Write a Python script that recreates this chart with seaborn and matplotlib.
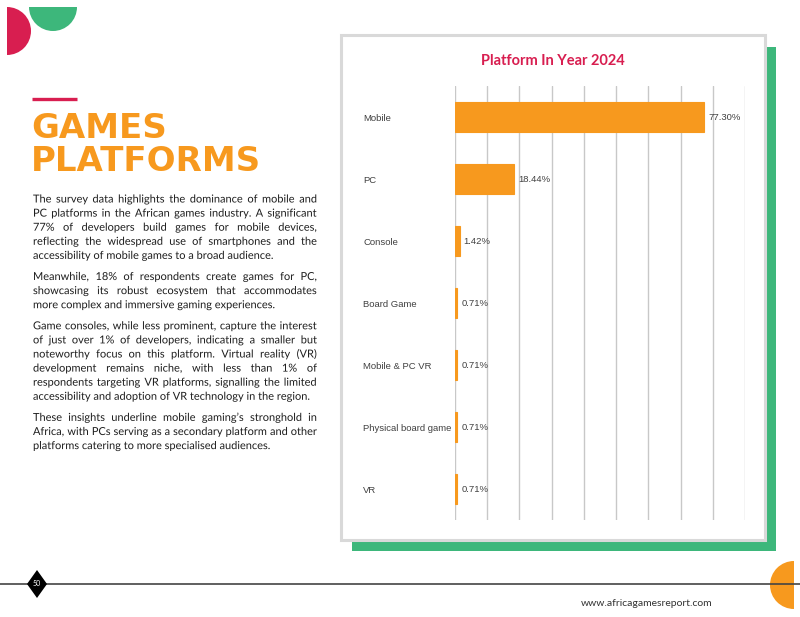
import matplotlib
matplotlib.use("Agg")
import matplotlib.pyplot as plt
import matplotlib.patheffects as pe
from matplotlib.patches import Wedge, Rectangle, Polygon
import seaborn as sns

# ── Data ─────────────────────────────────────────────────────────────────────
platforms = ["Mobile", "PC", "Console", "Board Game", "Mobile & PC VR",
             "Physical board game", "VR"]
shares = [77.30, 18.44, 1.42, 0.71, 0.71, 0.71, 0.71]
value_labels = [f"{v:.2f}%" for v in shares]

chart_title = "Platform In Year 2024"
heading = ["GAMES", "PLATFORMS"]
paragraphs = [
    ["The survey data highlights the dominance of mobile and",
     "PC platforms in the African games industry. A significant",
     "77% of developers build games for mobile devices,",
     "reflecting the widespread use of smartphones and the",
     "accessibility of mobile games to a broad audience."],
    ["Meanwhile, 18% of respondents create games for PC,",
     "showcasing its robust ecosystem that accommodates",
     "more complex and immersive gaming experiences."],
    ["Game consoles, while less prominent, capture the interest",
     "of just over 1% of developers, indicating a smaller but",
     "noteworthy focus on this platform. Virtual reality (VR)",
     "development remains niche, with less than 1% of",
     "respondents targeting VR platforms, signalling the limited",
     "accessibility and adoption of VR technology in the region."],
    ["These insights underline mobile gaming\u2019s stronghold in",
     "Africa, with PCs serving as a secondary platform and other",
     "platforms catering to more specialised audiences."],
]
page_number = "50"
website = "www.africagamesreport.com"

ORANGE = "#F7991E"
CRIMSON = "#D81E50"
GREEN = "#3DB77B"

sns.set_style("white")
plt.rcParams["font.family"] = ["Liberation Sans", "DejaVu Sans"]

W, H = 800, 617
fig = plt.figure(figsize=(W / 100, H / 100), dpi=100)

# ── Page background (pixel coordinates) ──────────────────────────────────────
bg = fig.add_axes([0, 0, 1, 1], zorder=0)
bg.set_xlim(0, W)
bg.set_ylim(H, 0)
bg.axis("off")

bg.add_patch(Wedge((7, 31), 24, -90, 90, color=CRIMSON, lw=0))
bg.add_patch(Wedge((53, 7), 24, 0, 180, color=GREEN, lw=0))
bg.add_patch(Wedge((794, 585), 24, 90, 270, color=ORANGE, lw=0))

# chart card with green shadow
bg.add_patch(Rectangle((352, 47), 424, 504, color=GREEN, lw=0))
bg.add_patch(Rectangle((341, 35), 424, 505, facecolor="white",
                       edgecolor="#D9D9D9", lw=2.2))

# footer
bg.plot([0, W], [584, 584], color="#444444", lw=1.2)
bg.add_patch(Polygon([(37, 570), (47, 584), (37, 598), (27, 584)],
                     closed=True, color="black", lw=0, zorder=3))
bg.text(37, 584, page_number, color="white", fontsize=5, ha="center",
        va="center", family="Lato", zorder=4)
bg.text(581, 603, website, color="#333333", fontsize=7.5, ha="left",
        va="center", family="Lato")

# heading
bg.plot([32, 77], [99, 99], color=CRIMSON, lw=2.4, solid_capstyle="butt")
bg.text(31, 138, heading[0], color=ORANGE, fontsize=24.5, fontweight="bold",
        family="DejaVu Sans", ha="left", va="baseline")
bg.text(31, 171, heading[1], color=ORANGE, fontsize=24.5, fontweight="bold",
        family="DejaVu Sans", ha="left", va="baseline")

# ── Justified body text ──────────────────────────────────────────────────────
renderer = fig.canvas.get_renderer()


def text_width(s, size):
    t = bg.text(0, 0, s, fontsize=size, family="Lato")
    w = t.get_window_extent(renderer).width
    t.remove()
    return w


ref_line = paragraphs[2][0]
body_size = 10 * 279 / text_width(ref_line, 10)
left, right = 33, 317
line_step, para_gap = 14.1, 7.0
body_kw = dict(fontsize=body_size, family="Lato", color="#1E1E1E",
               va="baseline", ha="left", path_effects=[pe.Normal()])

y = 202.5  # baseline of first line
for para in paragraphs:
    for i, line in enumerate(para):
        words = line.split(" ")
        if i == len(para) - 1:
            bg.text(left, y, line, **body_kw)
        else:
            widths = [text_width(w, body_size) for w in words]
            gap = (right - left - sum(widths)) / (len(words) - 1)
            x = left
            for w, wd in zip(words, widths):
                bg.text(x, y, w, **body_kw)
                x += wd + gap
        y += line_step
    y += para_gap

# ── Bar chart ────────────────────────────────────────────────────────────────
ax = fig.add_axes([455 / W, (H - 520) / H, 290 / W, 434 / H], zorder=2)
ax.patch.set_alpha(0)
sns.barplot(x=shares, y=platforms, orient="h", color=ORANGE, saturation=1,
            width=0.48, edgecolor=ORANGE, linewidth=0.8, ax=ax, zorder=3)
ax.set_xlim(0, 90)
ax.set_ylim(6.5, -0.5)
ax.set_xticks(range(0, 91, 10))
ax.set_xticklabels([])
ax.grid(axis="x", color="#C8C8C8", lw=1.0, zorder=0)
ax.grid(axis="y", visible=False)
ax.set_axisbelow(True)
for s in ax.spines.values():
    s.set_visible(False)
ax.tick_params(axis="x", length=0)
ax.tick_params(axis="y", length=0, pad=66.2, labelsize=6.8, labelcolor="#404040")
for lab in ax.get_yticklabels():
    lab.set_ha("left")
ax.set_xlabel("")
ax.set_ylabel("")
ax.bar_label(ax.containers[0], labels=value_labels, padding=3, fontsize=6.8,
             color="#404040")

fig.text(553 / W, 1 - 61 / H, chart_title, color=CRIMSON, fontsize=10.5,
         fontweight="bold", family="Lato", ha="center", va="center")

fig.savefig("out.png", dpi=100)
